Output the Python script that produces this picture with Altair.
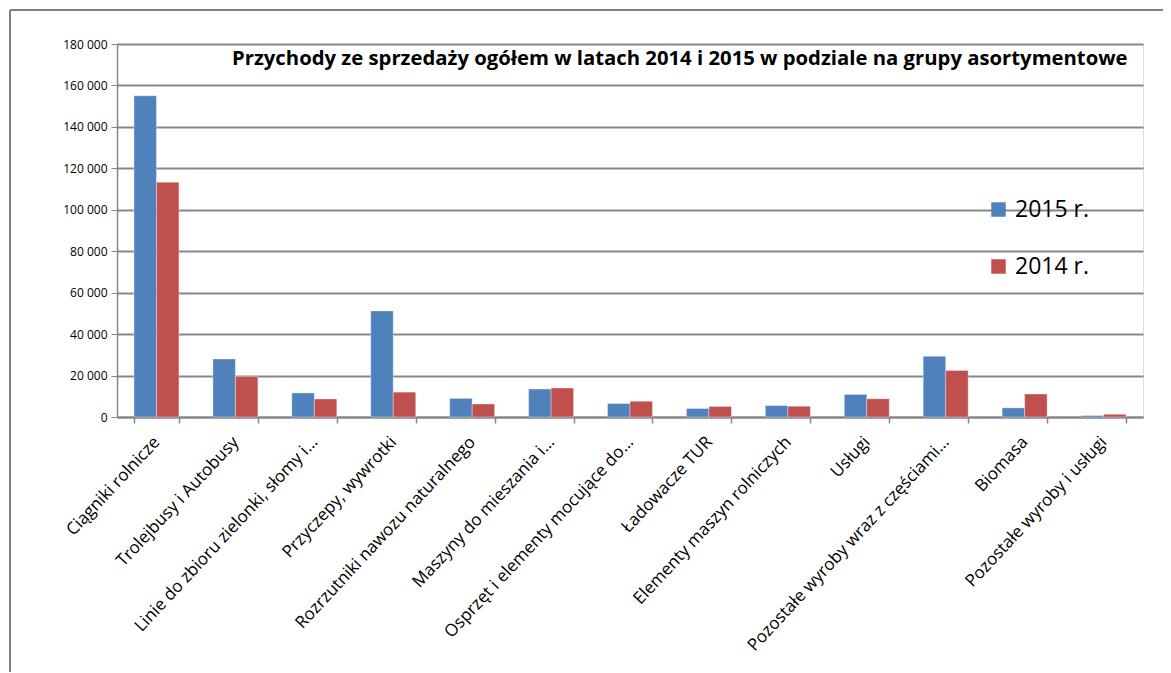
import altair as alt
import pandas as pd

categories = [
    "Ciągniki rolnicze",
    "Trolejbusy i Autobusy",
    "Linie do zbioru zielonki, słomy i…",
    "Przyczepy, wywrotki",
    "Rozrzutniki nawozu naturalnego",
    "Maszyny  do mieszania i…",
    "Osprzęt i elementy mocujące do…",
    "Ładowacze TUR",
    "Elementy maszyn rolniczych",
    "Usługi",
    "Pozostałe wyroby wraz z częściami…",
    "Biomasa",
    "Pozostałe wyroby i usługi",
]
values_2015 = [155000, 28000, 11600, 51200, 9000, 13500, 6500, 4100, 5500, 10900, 29300, 4400, 700]
values_2014 = [113300, 19500, 8700, 12000, 6300, 14000, 7600, 5100, 5200, 8800, 22500, 11100, 1300]
series = ["2015 r.", "2014 r."]
colors = ["#4F81BD", "#C0504D"]
y_ticks = [0, 20000, 40000, 60000, 80000, 100000, 120000, 140000, 160000, 180000]
chart_title = "Przychody ze sprzedaży ogółem w latach 2014 i 2015 w podziale na grupy asortymentowe"

rows = []
for c, v15, v14 in zip(categories, values_2015, values_2014):
    rows.append({"kategoria": c, "rok": series[0], "wartosc": v15})
    rows.append({"kategoria": c, "rok": series[1], "wartosc": v14})
df = pd.DataFrame(rows)

FONT = "Open Sans"

bars = alt.Chart(df).mark_bar(stroke="white", strokeWidth=0.6, strokeOpacity=0.6).encode(
    x=alt.X("kategoria:N", sort=categories, title=None,
            scale=alt.Scale(paddingInner=0.43, paddingOuter=0.215),
            axis=alt.Axis(labelAngle=-47, labelAlign="right", labelBaseline="middle",
                          labelFontSize=17, labelPadding=16, tickBand="extent",
                          tickSize=6, labelColor="black", labelFont=FONT,
                          domainColor="#868686", tickColor="#868686", domainWidth=2,
                          tickWidth=1.5, grid=False, labelLimit=400)),
    xOffset=alt.XOffset("rok:N", sort=series, scale=alt.Scale(paddingInner=0, paddingOuter=0)),
    y=alt.Y("wartosc:Q", title=None,
            scale=alt.Scale(domain=[0, 180000], nice=False),
            axis=alt.Axis(values=y_ticks, labelExpr="replace(format(datum.value, ','), ',', ' ')",
                          labelFontSize=12, labelColor="black", labelFont=FONT,
                          tickSize=6, tickColor="#868686", domainColor="#868686",
                          domainWidth=1.5, labelPadding=4,
                          gridColor="#878787", gridWidth=2)),
    color=alt.Color("rok:N", sort=series,
                    scale=alt.Scale(domain=series, range=colors),
                    legend=alt.Legend(title=None, orient="none", legendX=870, legendY=154,
                                      symbolType="square", symbolSize=210,
                                      symbolStrokeWidth=0, labelFontSize=23,
                                      labelFont=FONT, labelColor="black",
                                      rowPadding=33, padding=0, labelOffset=5)),
)

one = alt.Data(values=[{"t": chart_title}])
frame_left = alt.Chart(one).mark_rule(color="#7f7f7f", strokeWidth=2).encode(
    x=alt.value(-107), y=alt.value(-34), y2=alt.value(700))
frame_top = alt.Chart(one).mark_rule(color="#7f7f7f", strokeWidth=2).encode(
    x=alt.value(-107), x2=alt.value(1100), y=alt.value(-34))
title_txt = alt.Chart(one).mark_text(
    align="left", baseline="middle", fontSize=20.3, fontWeight="bold", font=FONT, color="black"
).encode(x=alt.value(115), y=alt.value(15), text="t:N")

chart = alt.layer(frame_left, frame_top, bars, title_txt).properties(
    width=1026, height=373,
    autosize=alt.AutoSizeParams(type="none"),
    padding={"left": 109, "top": 36, "right": 20, "bottom": 255},
).configure_view(stroke=None).configure(background="white")

chart.save("out.html", embed_options={"renderer": "svg", "actions": False})
